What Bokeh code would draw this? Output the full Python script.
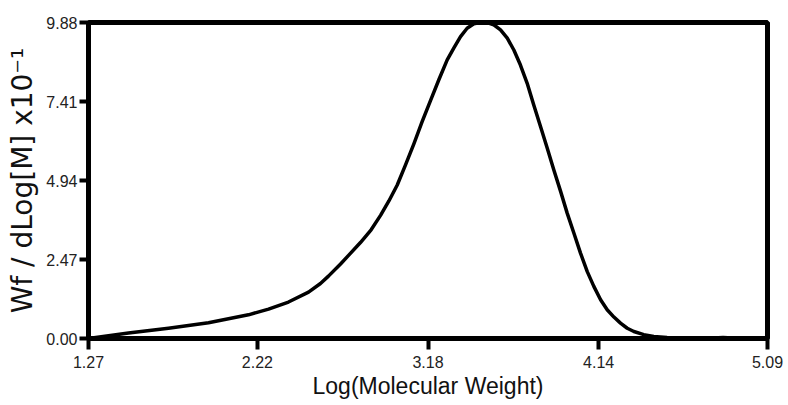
from bokeh.plotting import figure
from bokeh.models import Range1d, FixedTicker, CustomJSTickFormatter
from bokeh.embed import file_html
from bokeh.resources import INLINE

# Molecular weight distribution: log(M) vs Wf / dLog[M] (x10^-1)
log_mw = [1.270, 1.495, 1.720, 1.945, 2.170, 2.283, 2.395, 2.508, 2.575, 2.620,
          2.688, 2.733, 2.800, 2.860, 2.913, 2.960, 3.007, 3.053, 3.100, 3.147,
          3.194, 3.241, 3.288, 3.325, 3.363, 3.400, 3.438, 3.475, 3.513, 3.550,
          3.588, 3.626, 3.663, 3.700, 3.738, 3.775, 3.813, 3.851, 3.888, 3.926,
          3.963, 4.001, 4.038, 4.076, 4.113, 4.151, 4.188, 4.226, 4.263, 4.301,
          4.338, 4.394, 4.450, 4.525, 4.600, 4.760, 4.840, 4.920, 5.090]
wf_dlogm = [0.00, 0.17, 0.32, 0.49, 0.74, 0.92, 1.14, 1.45, 1.72, 1.95,
            2.33, 2.60, 3.00, 3.40, 3.85, 4.30, 4.80, 5.42, 6.08, 6.78,
            7.44, 8.09, 8.71, 9.08, 9.44, 9.70, 9.84, 9.88, 9.88, 9.81,
            9.65, 9.39, 9.02, 8.55, 7.98, 7.30, 6.63, 5.95, 5.27, 4.60,
            3.92, 3.29, 2.67, 2.09, 1.63, 1.21, 0.90, 0.67, 0.48, 0.32,
            0.22, 0.12, 0.06, 0.03, 0.01, 0.01, 0.03, 0.01, 0.00]

x_ticks = [1.27, 2.22, 3.18, 4.14, 5.09]
y_ticks = [0.00, 2.47, 4.94, 7.41, 9.88]

TICK_FONT = "'Liberation Sans Narrow', 'Liberation Sans', sans-serif"

p = figure(width=788, height=405, output_backend="svg", toolbar_location=None,
           x_range=Range1d(x_ticks[0], x_ticks[-1]),
           y_range=Range1d(y_ticks[0], y_ticks[-1]),
           min_border_left=88, min_border_right=21,
           min_border_top=22, min_border_bottom=67)

p.background_fill_color = "white"
p.border_fill_color = "white"
p.grid.visible = False
p.outline_line_color = "black"
p.outline_line_width = 5

p.line(log_mw, wf_dlogm, line_color="black", line_width=3.5,
       line_join="round", line_cap="round")

fmt = CustomJSTickFormatter(code="return tick.toFixed(2);")

xa = p.xaxis[0]
xa.ticker = FixedTicker(ticks=x_ticks)
xa.formatter = fmt
xa.minor_tick_line_color = None
xa.major_tick_in = 0
xa.major_tick_out = 11
xa.major_tick_line_width = 4
xa.axis_line_width = 5
xa.major_label_text_font = TICK_FONT
xa.major_label_text_font_size = "16px"
xa.major_label_text_color = "#222222"
xa.major_label_standoff = 6
xa.axis_label = "Log(Molecular Weight)"
xa.axis_label_text_font = "Liberation Sans"
xa.axis_label_text_font_style = "normal"
xa.axis_label_text_font_size = "23px"
xa.axis_label_text_color = "#111111"
xa.axis_label_standoff = 2

ya = p.yaxis[0]
ya.ticker = FixedTicker(ticks=y_ticks)
ya.formatter = fmt
ya.minor_tick_line_color = None
ya.major_tick_in = 0
ya.major_tick_out = 9
ya.major_tick_line_width = 4
ya.axis_line_width = 5
ya.major_label_text_font = TICK_FONT
ya.major_label_text_font_size = "16px"
ya.major_label_text_color = "#222222"
ya.major_label_standoff = 2
ya.axis_label = "Wf / dLog[M] x10\u207b\u00b9"
ya.axis_label_text_font = "DejaVu Sans"
ya.axis_label_text_font_style = "normal"
ya.axis_label_text_font_size = "28px"
ya.axis_label_text_color = "#111111"
ya.axis_label_standoff = 4

open("out.html", "w").write(file_html(p, INLINE))
